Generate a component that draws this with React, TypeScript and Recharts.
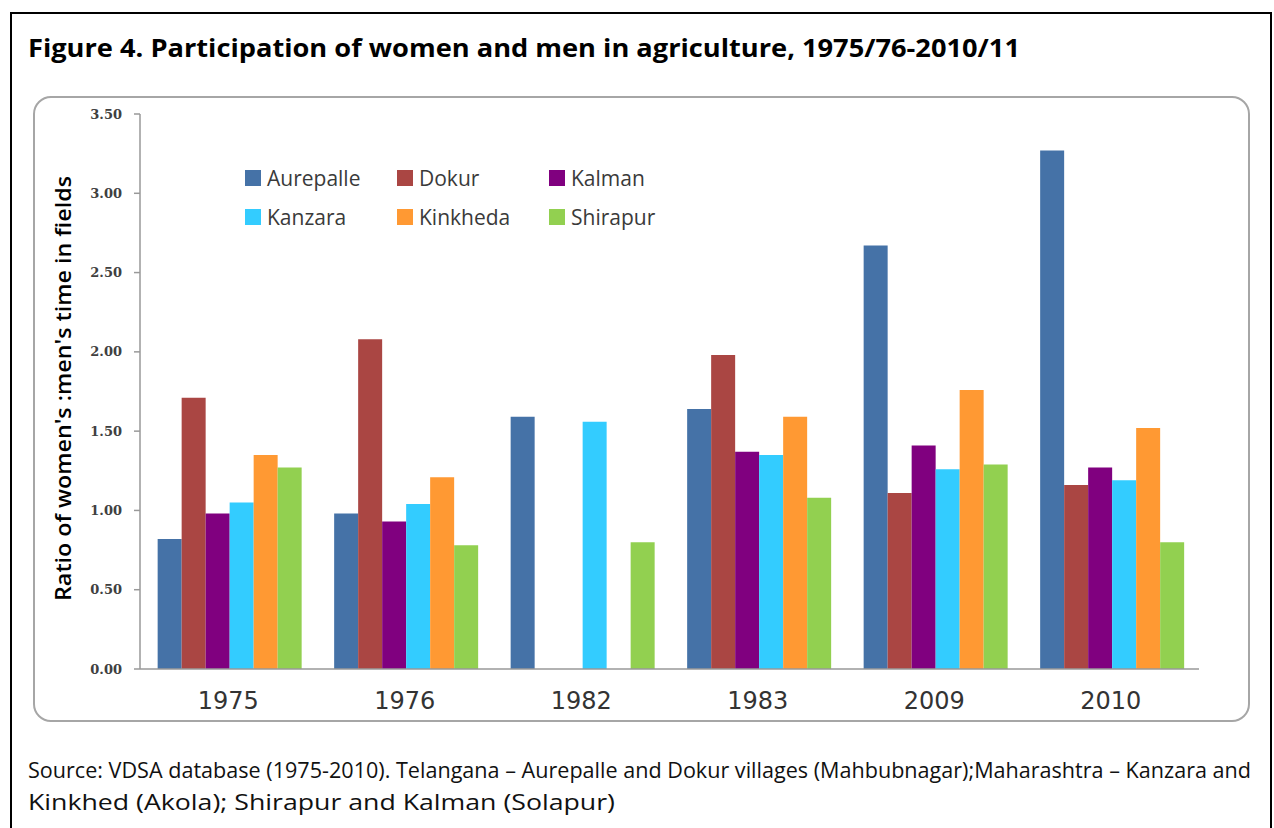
import React from 'react';
import { BarChart, Bar, XAxis, YAxis, Legend, Label } from 'recharts';

const categories = ['1975', '1976', '1982', '1983', '2009', '2010'];
const aurepalle = [0.82, 0.98, 1.59, 1.64, 2.67, 3.27];
const dokur = [1.71, 2.08, null, 1.98, 1.11, 1.16];
const kalman = [0.98, 0.93, null, 1.37, 1.41, 1.27];
const kanzara = [1.05, 1.04, 1.56, 1.35, 1.26, 1.19];
const kinkheda = [1.35, 1.21, null, 1.59, 1.76, 1.52];
const shirapur = [1.27, 0.78, 0.8, 1.08, 1.29, 0.8];

const seriesNames = ['Aurepalle', 'Dokur', 'Kalman', 'Kanzara', 'Kinkheda', 'Shirapur'];
const seriesValues = [aurepalle, dokur, kalman, kanzara, kinkheda, shirapur];
const seriesColors = ['#4572A7', '#AA4643', '#80007F', '#33CCFF', '#FF9933', '#92D050'];

const yTicks = [0, 0.5, 1, 1.5, 2, 2.5, 3, 3.5];
const boundaryTicks = [0, 1, 2, 3, 4, 5, 6];

const titleText = 'Figure 4. Participation of women and men in agriculture, 1975/76-2010/11';
const yAxisTitle = "Ratio of women's :men's time in fields";
const sourceLine1 =
  'Source: VDSA database (1975-2010). Telangana \u2013 Aurepalle and Dokur villages (Mahbubnagar);Maharashtra \u2013 Kanzara and';
const sourceLine2 = 'Kinkhed (Akola); Shirapur and Kalman (Solapur)';

const data = categories.map((c, i) => {
  const row: Record<string, any> = { year: c, idx: i + 0.5 };
  seriesNames.forEach((n, k) => {
    row[n] = seriesValues[k][i];
  });
  return row;
});

const renderLegend = (props: any) => {
  const { payload } = props;
  return (
    <div
      style={{
        display: 'grid',
        gridTemplateColumns: '152px 152px 152px',
        fontFamily: '"Open Sans", sans-serif',
        fontSize: 21,
        color: '#3a3a3a',
      }}
    >
      {payload.map((e: any) => (
        <div key={e.value} style={{ display: 'flex', alignItems: 'center', height: 39 }}>
          <span
            style={{ display: 'inline-block', width: 16, height: 16, background: e.color, marginRight: 6, flex: 'none' }}
          />
          <span style={{ whiteSpace: 'nowrap' }}>{e.value}</span>
        </div>
      ))}
    </div>
  );
};

const YTitle = (props: any) => {
  const vb = props.viewBox || { x: 40, y: 114, width: 100, height: 555 };
  const cx = vb.x + 22;
  const cy = vb.y + vb.height / 2 - 3;
  return (
    <text
      x={cx}
      y={cy}
      transform={`rotate(-90, ${cx}, ${cy})`}
      textAnchor="middle"
      dominantBaseline="central"
      fontFamily='"Open Sans", sans-serif'
      fontWeight={600}
      fontSize={22}
      fill="#000"
      textLength={425}
      lengthAdjust="spacingAndGlyphs"
    >
      {yAxisTitle}
    </text>
  );
};

export default function App() {
  return (
    <div style={{ position: 'absolute', left: 0, top: 0, width: 1274, height: 828, overflow: 'hidden', background: '#fff' }}>
      <div
        style={{
          position: 'absolute',
          left: 10,
          top: 12,
          width: 1262,
          height: 840,
          border: '2px solid #000',
          boxSizing: 'border-box',
        }}
      />
      <div
        style={{
          position: 'absolute',
          left: 33,
          top: 96,
          width: 1217,
          height: 626,
          border: '2px solid #A6A6A6',
          borderRadius: 18,
          boxSizing: 'border-box',
        }}
      />
      <svg style={{ position: 'absolute', left: 0, top: 0 }} width={1274} height={828}>
        <text
          x={28}
          y={57}
          fontFamily='"Open Sans", sans-serif'
          fontWeight={700}
          fontSize={25}
          fill="#000"
          textLength={992}
          lengthAdjust="spacingAndGlyphs"
        >
          {titleText}
        </text>
        <text
          x={28}
          y={778}
          fontFamily='"Open Sans", sans-serif'
          fontSize={21}
          fill="#111"
          textLength={1223}
          lengthAdjust="spacingAndGlyphs"
        >
          {sourceLine1}
        </text>
        <text
          x={28}
          y={810}
          fontFamily='"Open Sans", sans-serif'
          fontSize={21}
          fill="#111"
          textLength={587}
          lengthAdjust="spacingAndGlyphs"
        >
          {sourceLine2}
        </text>
      </svg>
      <div style={{ position: 'absolute', left: 0, top: 0 }}>
        <BarChart
          width={1274}
          height={828}
          data={data}
          margin={{ top: 114, right: 75, bottom: 157, left: 40 }}
          barGap={0}
          barCategoryGap="10%"
        >
          <XAxis
            xAxisId="edge"
            type="number"
            dataKey="idx"
            domain={[0, 6]}
            allowDataOverflow
            ticks={boundaryTicks}
            tick={false}
            axisLine={false}
            tickLine={{ stroke: '#999', strokeWidth: 1.5 }}
            tickSize={8}
            height={1}
          />
          <XAxis
            xAxisId="cat"
            dataKey="year"
            type="category"
            height={1}
            axisLine={{ stroke: '#999', strokeWidth: 1.5 }}
            tickLine={false}
            tickSize={0}
            tickMargin={23}
            tick={{ fontFamily: '"DejaVu Sans", sans-serif', fontSize: 24, fill: '#333' }}
            interval={0}
          />
          <YAxis
            width={100}
            domain={[0, 3.5]}
            ticks={yTicks}
            interval={0}
            tickFormatter={(v: number) => v.toFixed(2)}
            axisLine={{ stroke: '#999', strokeWidth: 1.5 }}
            tickLine={{ stroke: '#999', strokeWidth: 1.5 }}
            tickSize={6}
            tickMargin={12}
            tick={{ fontFamily: '"DejaVu Serif", serif', fontWeight: 700, fontSize: 13, fill: '#404040' }}
          >
            <Label content={<YTitle />} />
          </YAxis>
          <Legend
            content={renderLegend}
            layout="horizontal"
            verticalAlign="middle"
            align="center"
            wrapperStyle={{ top: 158, left: 245, width: 470 }}
          />
          {seriesNames.map((n, k) => (
            <Bar key={n} xAxisId="cat" dataKey={n} name={n} fill={seriesColors[k]} isAnimationActive={false} />
          ))}
        </BarChart>
      </div>
    </div>
  );
}
